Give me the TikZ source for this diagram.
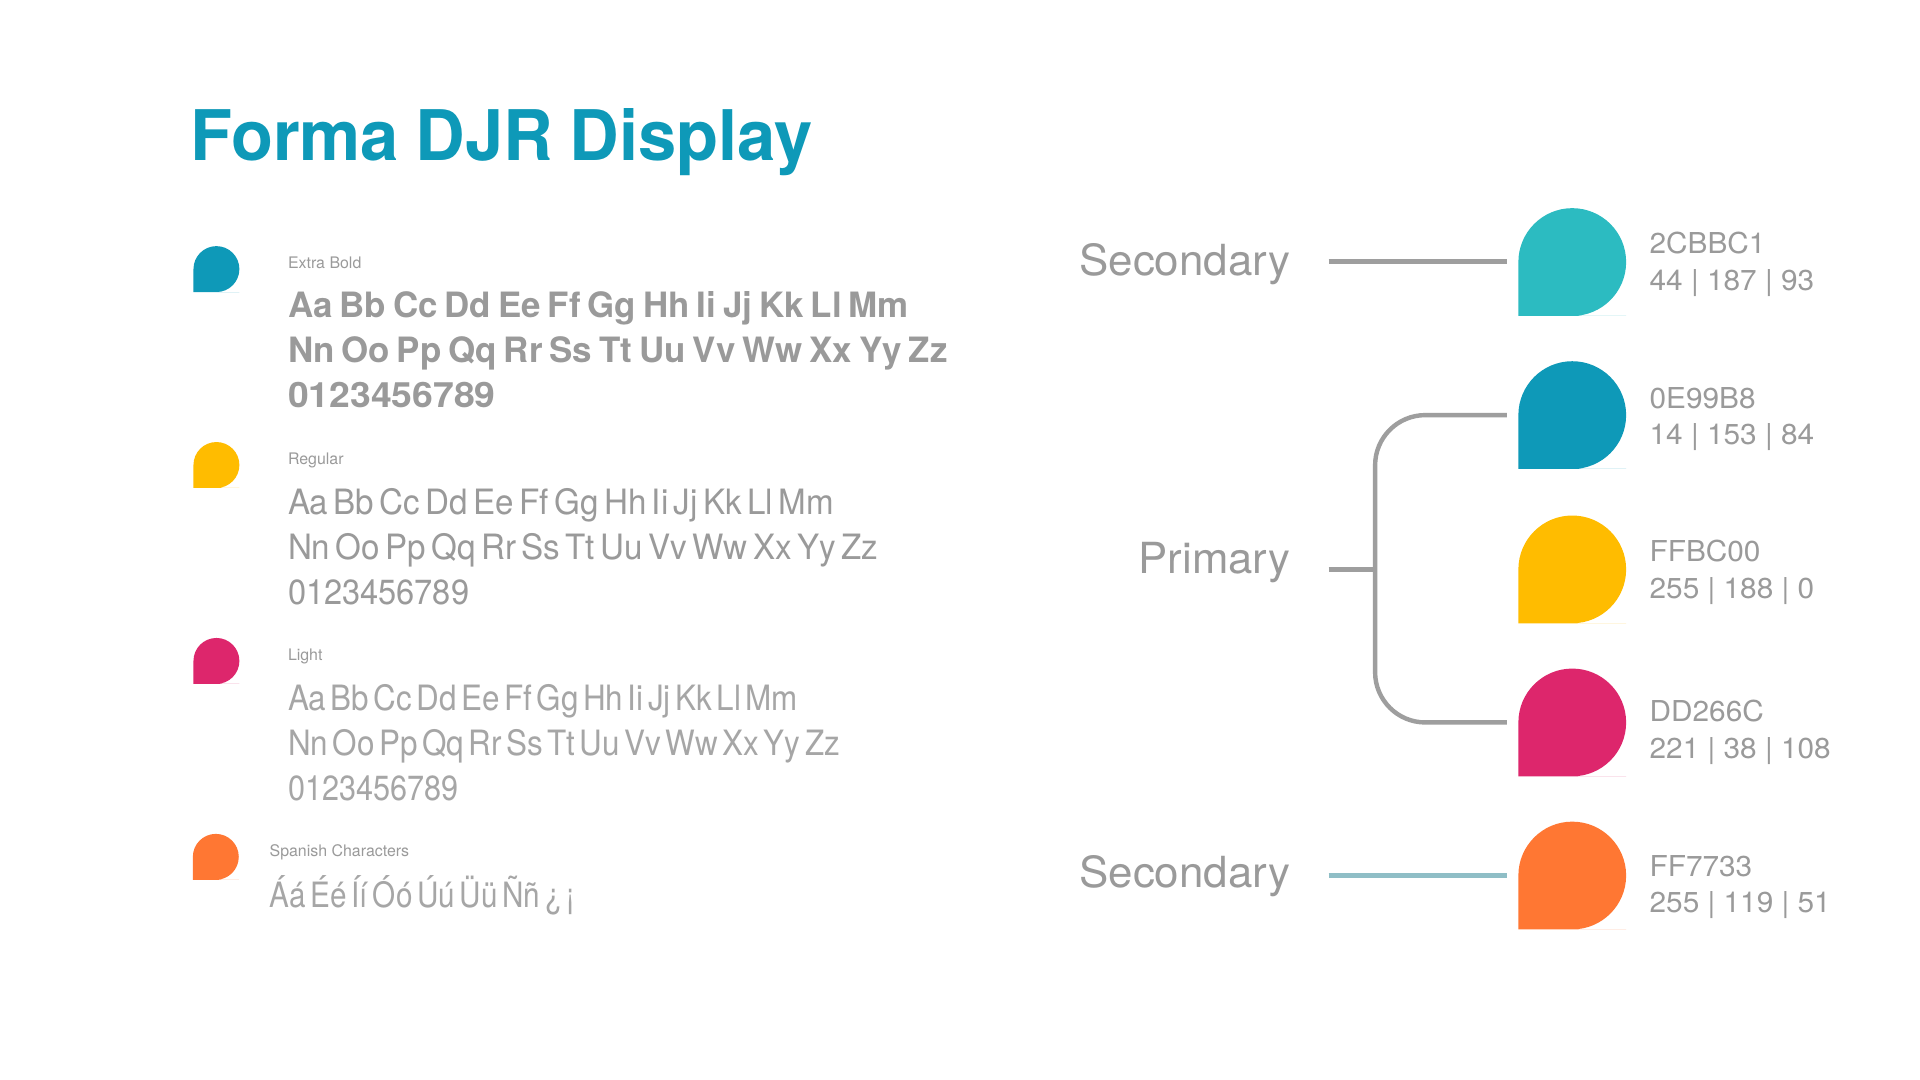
\documentclass[tikz,border=0pt]{standalone}
\usepackage{fontspec}
\setmainfont{TeX Gyre Heros}
\definecolor{titleteal}{HTML}{0E99B8}
\definecolor{cA}{HTML}{2CBBC1}
\definecolor{cB}{HTML}{0E99B8}
\definecolor{cC}{HTML}{FFBC00}
\definecolor{cD}{HTML}{DD266C}
\definecolor{cE}{HTML}{FF7733}
\definecolor{txtgray}{HTML}{9A9A9A}
\definecolor{lightgray2}{HTML}{A6A6A6}
\definecolor{linegray}{HTML}{9E9E9E}
\definecolor{lineteal}{HTML}{8FBEC6}
\newcommand{\dropblob}[5]{%
  \fill[#1] ({#2+#4/2},{#3+#4}) -- (#2,{#3+#4}) -- (#2,{#3+#4/2})
    [rounded corners=#5] -- (#2,#3) -- ({#2+#4},#3) -- ({#2+#4},{#3+#4}) -- cycle;}
% sample line: #1 font switch, #2 word space (em), #3 x scale, #4 text
\newcommand{\sampleline}[4]{\fontsize{28.5}{34}\selectfont#1\spaceskip=#2em\relax\scalebox{#3}[1]{#4}}
\newcommand{\hexline}[1]{\fontsize{23.5}{28}\selectfont\scalebox{1.035}[1]{#1}}
\tikzset{
  txt/.style={anchor=base west, inner sep=0pt, text=txtgray},
  rtxt/.style={anchor=base east, inner sep=0pt, text=txtgray},
  conn/.style={draw=linegray, line width=3.6pt},
}
\begin{document}
\begin{tikzpicture}[x=1pt,y=-1pt]
\useasboundingbox[fill=white] (0,0) rectangle (1568,882);
% title
\node[anchor=base west, inner sep=0pt, text=titleteal] (title) at (155,130.7)
  {\fontsize{57}{60}\selectfont\bfseries\spaceskip=0.24em\relax\scalebox{0.985}[1]{Forma DJR Display}};
% left small blobs
\dropblob{cB}{158}{201}{37.5}{18.75pt}
\dropblob{cC}{158}{361}{37.5}{18.75pt}
\dropblob{cD}{158}{521}{37.5}{18.75pt}
\dropblob{cE}{157.5}{681}{37.5}{18.75pt}
% labels
\node[txt] (lblXB) at (235,219) {\fontsize{13}{15}\selectfont Extra Bold};
\node[txt] (lblR) at (235,379) {\fontsize{13}{15}\selectfont Regular};
\node[txt] (lblL) at (235,539) {\fontsize{13}{15}\selectfont Light};
\node[txt] (lblS) at (220,699.5) {\fontsize{13}{15}\selectfont Spanish Characters};
% extra bold
\node[txt] (xb1) at (235,259) {\sampleline{\bfseries}{0.2}{1.0}{Aa Bb Cc Dd Ee Ff Gg Hh Ii Jj Kk Ll Mm}};
\node[txt] (xb2) at (235,296) {\sampleline{\bfseries}{0.2}{1.0}{Nn Oo Pp Qq Rr Ss Tt Uu Vv Ww Xx Yy Zz}};
\node[txt] (xb3) at (235,333) {\sampleline{\bfseries}{0.2}{1.07}{0123456789}};
% regular
\node[txt] (rg1) at (235,420) {\sampleline{}{0.164}{0.95}{Aa Bb Cc Dd Ee Ff Gg Hh Ii Jj Kk Ll Mm}};
\node[txt] (rg2) at (235,457) {\sampleline{}{0.164}{0.95}{Nn Oo Pp Qq Rr Ss Tt Uu Vv Ww Xx Yy Zz}};
\node[txt] (rg3) at (235,494) {\sampleline{}{0.164}{0.934}{0123456789}};
% light
\node[txt, text=lightgray2] (lt1) at (235,580) {\sampleline{}{0.145}{0.9}{Aa Bb Cc Dd Ee Ff Gg Hh Ii Jj Kk Ll Mm}};
\node[txt, text=lightgray2] (lt2) at (235,617) {\sampleline{}{0.145}{0.9}{Nn Oo Pp Qq Rr Ss Tt Uu Vv Ww Xx Yy Zz}};
\node[txt, text=lightgray2] (lt3) at (235,654) {\sampleline{}{0.145}{0.877}{0123456789}};
% spanish
\node[txt, text=lightgray2] (sp1) at (220,741) {\sampleline{}{0.16}{0.85}{Áá Éé Íí Óó Úú Üü Ññ ¿ ¡}};
% right labels
\node[rtxt] (sec1) at (1054,225.4) {\fontsize{35}{40}\selectfont\scalebox{1.025}[1]{Secondary}};
\node[rtxt] (prim) at (1054,468) {\fontsize{35}{40}\selectfont\scalebox{1.02}[1]{Primary}};
\node[rtxt] (sec2) at (1054,725) {\fontsize{35}{40}\selectfont\scalebox{1.025}[1]{Secondary}};
% right blobs
\dropblob{cA}{1240}{170}{88}{44pt}
\dropblob{cB}{1240}{295}{88}{44pt}
\dropblob{cC}{1240}{421}{88}{44pt}
\dropblob{cD}{1240}{546}{88}{44pt}
\dropblob{cE}{1240}{671}{88}{44pt}
% hex labels
\node[txt] (hA1) at (1347,207.4) {\hexline{2CBBC1}};
\node[txt] (hA2) at (1347,237.4) {\hexline{44 | 187 | 93}};
\node[txt] (hB1) at (1347,333.4) {\hexline{0E99B8}};
\node[txt] (hB2) at (1347,363.4) {\hexline{14 | 153 | 84}};
\node[txt] (hC1) at (1347,458.4) {\hexline{FFBC00}};
\node[txt] (hC2) at (1347,488.4) {\hexline{255 | 188 | 0}};
\node[txt] (hD1) at (1347,589.4) {\hexline{DD266C}};
\node[txt] (hD2) at (1347,619.4) {\hexline{221 | 38 | 108}};
\node[txt] (hE1) at (1347,715.4) {\hexline{FF7733}};
\node[txt] (hE2) at (1347,745.4) {\hexline{255 | 119 | 51}};
% connector coordinates
\coordinate (s1a) at (1085,213.7);
\coordinate (s1b) at (1230.5,213.7);
\coordinate (pa) at (1085,465);
\coordinate (pj) at (1123,465);
\coordinate (t2) at (1230.5,339);
\coordinate (t4) at (1230.5,590);
\coordinate (s2a) at (1085,715);
\coordinate (s2b) at (1230.5,715);
\draw[conn] (s1a) -- (s1b);
\draw[conn] (pa) -- (pj);
\draw[conn, rounded corners=41pt] (t2) -| (pj) |- (t4);
\draw[conn, draw=lineteal] (s2a) -- (s2b);
\end{tikzpicture}
\end{document}
